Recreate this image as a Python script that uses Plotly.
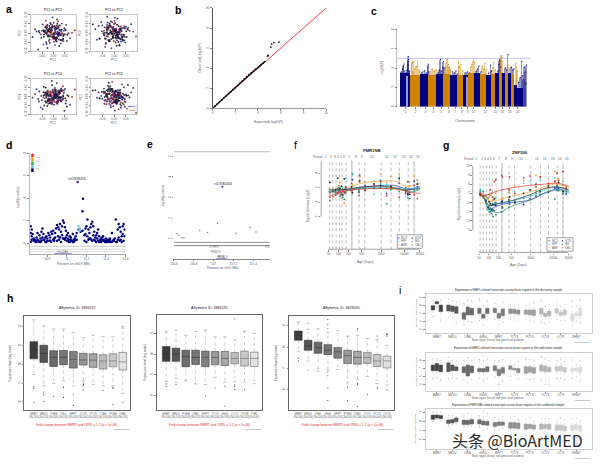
import numpy as np
import plotly.graph_objects as go

W, H = 600, 465
TXT = "#5a5a5a"

# a: principal components (in units of 0.01)
pc1 = [-1.3,2.4,-3.1,0.6,4.2,-2.2,1.7,-5.3,3.4,0.2,-0.8,6.1,2.9,-4.4,1.1,-2.7,0.4,3.3,-6.2,5.2,
       -1.6,2.1,-3.4,1.4,-0.3,-2.1,4.6,-1.1,7.3,-3.7,2.6,0.9,-5.6,1.9,3.8,-2.4,-7.4,1.2,0.1,2.2,
       -1.9,4.1,-3.2,5.4,-2.8,-0.2,1.6,-4.1,3.1,-1.2,2.7,-6.4,0.7,1.3,-2.3,6.6,-3.6,4.4,-0.6,-1.4,
       0.8,8.2,-2.6,3.6,-4.7,-0.1,2.3,-1.7,5.1,-3.3,1.8,-8.1,0.3,-2.9,3.2,1.5,-5.1,2.8,-1.5,4.3,
       -0.4,-3.9,5.9,1.0,-2.0,0.5,2.5,-4.2,3.7,-0.9,1.1,-6.7,4.8,0.0,-2.5,5.6,-3.0,9.4,-9.2,-0.7,
       0.4,-1.2,1.8,-0.6,2.5,-2.1,0.9,-3.0,1.3,-0.2,3.2,-1.7,0.1,2.0,-3.6,1.0,-0.9,3.9,-2.4,0.6,
       -1.5,2.8,-0.4,1.5,-2.9,0.2,3.5,-1.0,-4.2,1.1,2.3,-0.7,0.7,-2.0,4.3,-1.4,1.6,-3.3,0.0,2.6,
       -0.1,-2.6,1.9,0.5,-1.8,3.0,-4.4,1.2,-0.5,2.1,0.8,-3.1,2.4,-1.1,0.3,-2.3,4.6,-0.8,1.4,-1.9,
       3.4,-0.3,0.6,-4.0,2.2,-1.3,1.7,-2.7,0.9,-0.6]
pc2 = [2.1,-1.4,3.8,-0.5,-3.3,1.2,5.1,-2.6,0.7,-4.8,3.0,-0.9,1.6,-6.2,2.5,4.4,-1.8,-3.7,0.3,1.9,
       -5.4,6.3,-0.2,-2.3,3.4,1.0,-1.1,4.9,-2.9,0.6,-7.1,2.8,-0.7,3.6,-4.1,1.4,0.9,-3.0,5.7,-1.6,
       2.2,-0.3,-5.0,1.7,3.1,-2.1,7.4,-0.8,-3.9,0.4,4.2,1.1,-6.6,2.6,-1.3,-0.1,3.3,-4.5,1.5,5.5,
       -2.4,0.2,-8.2,1.8,4.7,-1.0,2.9,-3.5,-0.6,6.8,0.8,2.0,-2.7,3.9,-5.8,-0.4,1.3,4.0,-1.9,-3.2,
       8.6,0.5,-4.3,2.3,-1.2,3.7,-0.1,-2.0,5.2,1.1,-3.6,-9.0,2.7,0.0,-1.5,4.5,-6.0,1.6,-2.2,3.2,
       -0.9,1.6,2.7,-2.2,0.3,1.1,-3.4,-0.5,2.0,3.7,-1.3,0.8,-2.8,0.1,1.4,-4.1,2.4,-0.2,1.0,-3.0,
       3.1,-0.7,-1.8,4.0,0.5,-2.5,1.9,-1.0,0.9,-3.7,-0.4,2.9,1.2,-4.4,-1.6,0.6,-0.1,3.4,-2.0,1.7,
       -3.2,0.2,-1.1,2.3,3.9,-0.6,1.5,-2.7,4.3,-1.5,0.4,2.6,-3.5,0.7,-0.3,-1.9,1.3,3.0,-4.6,2.1,
       -0.8,-2.3,3.6,1.0,-1.2,0.0,-2.9,1.8,2.5,-0.5]
pc3 = [-3.4,1.7,0.5,-5.2,2.8,4.1,-1.6,0.9,-2.3,6.7,-0.4,3.0,-4.6,1.3,-7.0,2.2,5.4,-0.7,-3.1,1.0,
       3.7,-2.5,0.2,7.9,-1.2,-4.0,2.6,-0.3,4.8,-5.9,1.5,-2.8,6.1,0.6,-1.9,3.3,-3.7,0.1,2.0,-6.5,
       4.4,-0.9,1.8,-2.2,5.7,-4.4,0.7,3.1,-1.1,-8.3,2.4,-3.0,0.3,4.6,-0.5,1.2,-5.5,3.8,-2.0,6.4,
       -1.4,0.8,2.9,-3.5,-0.2,5.0,-6.8,1.6,3.5,-1.7,-4.9,2.1,8.4,-0.6,1.1,-2.6,4.2,-3.3,0.4,-1.0,
       3.4,-7.6,1.9,-0.8,5.3,-2.4,2.5,0.0,-4.2,6.0,-1.3,3.9,-5.1,0.9,-3.8,2.3,9.0,-1.8,4.7,-2.9,
       1.2,-0.6,-2.7,2.0,0.4,-3.8,1.5,3.3,-1.1,0.7,-2.2,4.1,-0.3,1.9,-3.1,0.2,2.8,-1.6,-4.3,1.0,
       0.6,3.6,-2.4,-0.9,1.7,2.3,-3.5,0.1,-1.3,4.5,-0.5,-2.0,1.1,3.0,-4.0,0.9,-1.8,2.6,-0.2,-3.3,
       1.4,-0.7,3.8,-2.6,0.3,1.8,-1.0,-3.9,2.2,0.5,-1.5,4.4,-2.9,0.8,1.3,-0.4,-2.1,3.2,0.0,-4.5,
       2.7,-1.2,1.6,-3.0,0.6,3.5,-0.8,-1.9,2.4,1.0]
pc4 = [1.4,-2.0,-0.6,3.2,-1.1,2.5,-3.6,0.4,4.6,-1.7,-4.2,0.8,2.0,-0.3,3.7,-5.3,1.2,-2.4,2.9,-0.9,
       0.1,-3.0,5.0,1.6,-1.5,-2.7,3.4,0.6,-4.7,2.2,-0.2,1.0,-6.1,3.0,-1.9,0.7,4.2,-3.3,1.8,-0.5,
       -2.2,5.9,0.3,-3.9,1.5,2.7,-1.2,-5.0,3.6,0.9,-0.7,-2.8,4.9,1.1,-4.0,0.2,2.4,-1.4,6.4,-3.1,
       1.7,-0.1,-2.5,3.1,-7.0,0.5,2.1,-1.6,4.3,-3.4,0.0,1.3,-4.6,2.6,-0.8,7.6,-2.1,1.9,-3.7,0.6,
       3.9,-1.0,-5.6,2.3,0.4,-2.9,1.4,5.4,-0.4,-3.5,2.8,-1.3,-8.0,0.7,3.3,-2.3,1.0,4.0,-0.6,8.8,
       -0.7,1.3,0.2,-2.1,2.4,-1.0,0.6,-3.2,1.7,3.0,-0.4,-1.6,2.1,0.9,-2.6,1.1,-0.1,3.4,-1.8,0.4,
       -3.5,2.7,-0.9,0.3,1.9,-2.3,3.6,-1.2,0.7,-0.5,2.2,-3.9,1.0,-1.4,0.1,2.9,-2.8,1.5,-0.6,3.2,
       -1.1,0.5,-2.4,4.0,0.8,-1.9,2.5,-0.2,-3.0,1.2,-0.8,1.8,3.5,-2.2,0.0,-1.5,2.0,-3.6,0.6,1.4,
       -2.7,3.1,-0.3,0.9,-1.3,2.6,-4.1,1.6,-0.7,2.3]
pc5 = [-0.8,3.3,-2.7,1.0,5.2,-4.1,0.2,2.6,-1.5,-3.4,4.3,0.7,-6.3,1.9,-0.4,3.0,-2.2,6.9,-1.0,0.5,
       -4.8,2.1,1.3,-3.0,-0.1,4.7,-5.7,0.9,2.4,-1.8,3.8,-2.5,0.3,-7.2,1.6,5.5,-0.6,-3.6,2.9,1.1,
       -1.3,-4.5,3.5,0.6,6.2,-2.0,1.7,-0.2,-5.1,4.0,2.2,-1.1,-3.2,0.8,7.8,-0.5,1.4,-2.8,3.2,-6.0,
       0.4,4.9,-1.6,-3.8,2.7,0.1,-2.4,5.8,1.2,-4.3,-0.9,3.6,-7.9,1.8,0.0,2.3,-1.2,-3.3,4.5,0.9,
       -5.4,2.0,6.5,-0.7,-2.6,3.1,1.5,-4.0,-0.3,8.3,-1.9,2.5,-3.1,0.6,4.1,-6.8,1.1,-9.2,3.4,-1.4,
       1.1,-2.4,0.6,3.1,-0.9,1.8,-3.5,0.2,2.3,-1.4,-0.2,3.8,-2.9,1.0,0.5,-4.2,2.6,-0.7,1.5,-1.9,
       3.4,0.3,-3.1,1.3,-0.5,2.0,-1.6,4.1,-2.2,0.8,-0.3,-3.7,2.9,1.6,-1.0,0.4,3.6,-2.6,0.0,-4.4,
       1.9,-1.2,2.4,-0.6,-3.0,0.7,4.5,-1.8,1.2,-2.3,3.3,0.1,-0.8,-3.9,2.1,1.4,-1.5,0.9,-2.7,3.0,
       -0.4,1.7,-3.3,2.7,0.6,-1.1,-2.0,3.9,0.3,-0.9]

# b: QQ plot
qq_exp = [0.05,0.2,0.4,0.6,0.8,1.0,1.2,1.4,1.6,1.8,2.0,2.2,2.4,2.6,2.8,3.0,3.2,3.4,3.6,3.8,4.0,4.15,4.3,4.45,4.6,4.84,4.9,5.13,5.2,5.4,5.85]
qq_obs = [0.05,0.22,0.43,0.63,0.84,1.05,1.25,1.46,1.66,1.87,2.07,2.28,2.5,2.72,2.94,3.15,3.35,3.53,3.72,3.9,4.08,4.22,4.36,4.5,4.66,5.2,5.28,6.1,6.4,6.55,6.6]
qq_line = [0, 10]

# c: Manhattan
chrom_width = [32,30,25,24,22,21,19,18,18,17,17,20,13,13,12,9,9,9,11,8,8,20]
chrom_top = [3.55,3.35,3.45,3.35,3.45,3.45,3.35,3.35,3.35,3.55,3.55,3.45,3.35,3.45,3.55,3.6,3.55,3.45,3.55,3.45,2.3,2.0]
chrom_ticks = [17,47,77,101,125,148,167,188,206,223,259,289,310,333,357]
chrom_labels = ["1","2","3","4","5","6","7","8","9","10","12","14","16","18","20"]
chrom_color = ["#00007f","#cc8400"]*10 + ["#00007f","#00007f"]
gap_pos = [22, 205]
navy_pos = [4,8,10,12,15,18,22,24,25,25,26,28,30,66,70,75,80,85,86,88,116,120,123,126,130,132,134,160,165,170,174,198,205,210,232,236,240,246,270,275,278,298,300,302,304,306,320,324,328,338,342,346,360,365,370,375,378,380,382,384,378,372]
navy_log = [3.6,3.9,4.2,4.4,3.7,3.5,3.8,4.3,4.7,5.2,4.9,3.7,3.6,3.5,3.6,3.7,3.5,4.1,4.4,3.6,3.5,3.8,4.9,3.7,4.1,4.7,4.0,3.6,3.5,3.7,3.4,3.5,3.6,3.5,3.7,3.9,4.2,3.6,3.5,4.3,3.7,3.7,4.4,4.8,5.0,4.1,4.0,3.8,5.4,4.1,3.8,3.9,2.5,3.0,4.7,2.8,4.1,3.6,2.4,4.3,2.6,3.2]
orange_pos = [36,38,42,45,50,54,58,60,40,92,98,104,110,138,140,143,145,147,150,153,155,178,180,185,190,215,218,222,225,227,250,255,258,262,282,285,290,306,308,310,312,328,330,333,352,354,356]
orange_log = [4.5,4.6,4.7,3.9,4.2,4.7,3.8,3.6,3.6,3.6,3.9,3.7,3.8,4.1,4.5,4.9,5.0,4.4,4.1,3.8,3.6,4.6,4.2,4.4,3.7,4.1,4.4,4.7,4.99,4.6,4.2,3.9,4.5,3.8,4.0,4.6,3.8,4.8,5.3,5.1,4.7,4.3,4.0,3.8,4.5,4.1,3.7]
manh_threshold = [5, 5]

# d: regional plot
d_pos = [10.63,10.64,10.65,10.66,10.67,10.68,10.69,10.70,10.71,10.72,10.73,10.74,10.75,10.76,10.77,10.78,10.79,10.80,10.81,10.82,
         10.83,10.84,10.85,10.86,10.87,10.88,10.89,10.90,10.91,10.92,10.93,10.94,10.95,10.96,10.97,10.98,10.99,11.00,11.01,11.02,
         11.03,11.04,11.05,11.06,11.07,11.08,11.09,11.10,11.12,11.14,11.16,11.18,11.19,11.20,11.21,11.22,11.23,11.24,11.25,11.26,
         11.27,11.28,11.29,11.30,11.31,11.32,11.33,11.34,11.35,11.36,11.37,11.38,11.39,11.40,11.41,11.42,11.43,11.44,11.46,11.48,
         11.50,11.52,11.53,11.54,11.55,11.56,11.57,11.58,11.59,
         10.63,10.64,10.66,10.68,10.70,10.72,10.74,10.76,10.78,10.80,10.82,10.84,10.86,10.88,10.90,10.92,10.94,10.96,10.98,11.00,
         11.02,11.04,11.06,11.08,11.10,11.18,11.20,11.22,11.24,11.26,11.28,11.30,11.32,11.34,11.36,11.38,11.40,11.42,11.44,11.46,
         11.48,11.50,11.52,11.54,11.56,11.58,
         10.64,10.63,10.69,10.73,10.75,10.79,10.83,10.87,10.91,10.93,10.95,10.97,10.99,11.01,11.03,11.07,11.19,11.21,11.23,11.25,
         11.27,11.29,11.31,11.33,11.35,11.37,11.39,11.41,11.43,11.45,11.47,11.49,11.51,11.53,11.55,11.57,11.59]
d_log = [1.5,1.2,0.8,0.4,0.3,0.2,0.5,0.9,0.2,0.7,0.4,1.0,1.3,0.8,0.3,0.5,0.6,0.2,0.9,0.7,
         0.5,1.0,0.8,1.1,0.4,0.9,1.3,1.6,1.4,1.2,1.7,1.0,1.5,2.0,1.8,1.4,1.1,0.7,0.9,0.3,
         0.6,0.5,0.2,0.8,0.3,0.4,0.6,0.9,1.2,1.0,1.1,0.7,1.3,1.5,2.1,1.2,0.9,1.4,1.7,1.9,
         1.5,1.0,0.5,0.7,0.9,1.2,0.6,0.3,0.4,0.5,0.6,0.3,0.2,0.4,0.1,0.3,0.2,0.4,0.9,0.3,
         2.1,1.2,1.7,1.4,1.0,0.6,1.5,1.7,1.2,
         0.1,0.3,0.2,0.1,0.3,0.1,0.2,0.3,0.1,0.4,0.2,0.1,0.3,0.5,0.2,0.3,0.1,0.4,0.3,0.2,
         0.1,0.3,0.1,0.2,0.3,0.2,0.1,0.3,0.4,0.2,0.3,0.1,0.2,0.1,0.3,0.2,0.1,0.2,0.3,0.1,
         0.2,0.1,0.3,0.2,0.1,0.2,
         0.6,0.9,0.1,0.1,0.5,0.1,0.2,0.2,0.6,0.5,0.7,0.4,0.5,0.4,0.1,0.1,0.8,0.6,0.4,0.3,
         0.7,0.2,0.4,0.1,0.1,0.2,0.1,0.2,0.1,0.1,0.2,0.4,0.1,0.5,0.3,0.8,0.6]
d_peak_pos = [11.165, 11.16]
d_peak_log = [3.95, 2.84]
d_lead_pos = [11.11]
d_lead_log = [5.44]
d_ld_pos = [11.12, 11.125, 11.13, 11.135]
d_ld_log = [1.5, 1.2, 1.05, 1.3]

# e: regional plot
e_pos = [156.63,156.65,156.68,156.70,156.86,156.94,157.04,157.23,157.37,157.43]
e_log = [1.24,1.16,1.05,1.05,1.40,1.30,1.75,1.27,1.54,1.33]
e_lead_pos = [157.09]
e_lead_log = [3.52]

# f, g: expression over the lifespan
regions = ["NCX","HIP","AMY","STR","MD","CBC"]
region_colors = ["#1f2fd0","#35d8e6","#f0a030","#222222","#2f8f5f","#e0362c"]
ages = [55,68,82,95,103,112,122,135,150,165,250,265,420,440,640,1200,1900,2900,3900,7000,11000,12800,14500,20000,25000]
curve_ages = [50,70,100,200,500,2000,5000,10000,14000,30000]
period_bounds = [54,67,85,107,129,169,256,425,630,1990,3970,7070,13200,19900]
period_label_ages = [41.6,60,77.6,97.5,120,147,214,340,513,1020,3010,5360,9980,16500,26200]
age_ticks = [50,100,200,500,2000,10000,30000]

f_points = [
    [5.3,5.5,5.4,5.9,5.7,5.6,5.2,5.8,5.5,5.7,5.5,7.1,5.7,7.6,6.3,5.9,7.0,5.2,6.1,6.6,5.4,5.0,5.8,6.3,6.1],
    [5.6,5.7,5.1,5.5,5.9,4.9,5.3,6.1,5.2,7.3,5.9,7.8,5.8,7.9,6.0,5.1,6.5,6.4,5.7,7.1,4.8,5.6,6.8,5.5,7.0],
    [5.2,5.9,5.8,5.2,6.3,6.7,4.6,5.5,3.9,5.4,5.5,6.4,6.0,7.5,6.8,6.9,7.9,6.7,7.5,7.9,5.8,6.9,6.2,7.6,7.1],
    [6.7,5.5,5.7,7.3,5.4,5.9,6.2,5.0,7.2,6.0,6.1,5.3,5.4,7.0,5.6,6.5,6.3,5.9,6.2,7.3,5.6,5.2,5.1,6.9,6.5],
    [4.2,5.6,5.0,5.8,6.0,4.8,5.1,4.7,4.4,5.3,5.6,7.9,5.5,6.8,5.8,6.1,6.0,3.8,5.8,5.5,6.0,4.6,4.5,5.7,5.8],
    [4.7,4.8,5.0,5.2,5.4,5.5,5.0,5.6,5.3,6.1,6.6,5.8,4.9,6.9,5.7,6.4,6.8,4.9,6.0,4.7,5.2,6.8,5.4,5.0,4.5],
]
f_curves = [
    [5.5,5.5,5.6,5.8,6.0,6.3,6.3,5.9,5.8,6.1],
    [5.5,5.6,5.6,5.7,5.9,6.0,5.9,5.8,5.8,6.1],
    [5.5,5.6,5.7,6.0,6.6,6.9,6.9,6.3,6.2,6.6],
    [5.8,5.7,5.7,5.8,6.1,6.2,6.0,5.7,5.7,5.9],
    [5.4,5.4,5.3,5.6,5.9,5.9,5.9,5.6,5.4,5.7],
    [4.8,5.0,5.3,5.6,5.8,5.9,5.8,5.6,5.4,5.2],
]
g_points = [
    [7.0,6.8,6.3,5.5,5.3,5.0,5.7,5.2,5.8,6.0,5.9,6.2,6.1,5.9,6.1,5.8,6.4,6.7,6.9,7.1,7.6,7.4,7.6,7.0,7.0],
    [7.5,7.2,6.2,5.2,5.6,5.8,5.1,6.3,6.0,6.5,5.9,6.4,6.6,7.0,7.2,8.1,8.3,7.3,8.4,8.0,8.7,7.9,7.4,8.3,7.1],
    [6.8,7.0,6.6,6.4,6.1,6.8,5.8,6.3,6.5,7.0,6.3,6.5,7.1,7.4,7.8,8.4,7.3,9.0,8.8,7.6,9.4,8.0,8.6,7.6,7.7],
    [6.9,6.7,6.2,5.5,6.1,5.9,5.2,5.8,6.4,5.7,6.1,5.5,6.3,6.6,6.0,7.0,7.4,8.0,7.2,7.8,8.3,7.7,8.2,7.2,7.5],
    [7.3,7.2,6.0,5.3,5.0,5.4,4.8,4.5,5.1,4.7,5.0,5.4,5.5,5.8,6.2,6.5,6.8,7.0,7.3,7.2,6.4,7.8,7.3,7.0,6.9],
    [7.0,6.7,6.8,6.5,6.9,7.4,7.0,6.6,8.3,8.5,9.0,8.8,7.4,8.8,7.0,8.7,8.9,7.7,8.8,8.1,8.3,9.2,8.4,9.4,7.6],
]
g_curves = [
    [7.0,6.6,5.3,5.7,6.0,6.3,7.0,7.4,7.5,7.1],
    [7.4,6.9,5.7,5.9,6.2,6.7,7.3,7.7,7.7,7.3],
    [6.8,6.7,6.2,6.3,6.7,7.2,7.7,8.0,8.0,7.7],
    [6.9,6.5,5.7,5.9,6.2,6.9,7.5,7.7,7.7,7.4],
    [7.2,6.6,5.3,4.9,5.6,6.3,7.0,7.3,7.4,7.2],
    [6.8,6.8,6.9,7.3,7.6,7.9,8.0,8.1,8.1,7.8],
]

# h: three box plots
h_titles = ["Affymetrix ID: 3884192","Affymetrix ID: 3884195","Affymetrix ID: 3828034"]
h_labels = [
    ["MMRT","MEDU","TGEB","CBLL","MFPT","CLYN","TCYS","TCAS","PCMB","CRBL"],
    ["MMRT","MEDU","PCRM","CRBL","MFPT","TCYS","GNGL","LCYS","TCYM","TGRL"],
    ["MMRT","MEDU","CRBL","GNGL","MFPT","PCRM","TMGL","TCYS","PCYS","OCYS"],
]
h_q3 = [[11.19,11.0,10.71,10.72,10.67,10.57,10.55,10.5,10.55,10.62],
        [10.37,10.29,10.19,10.19,10.15,10.13,10.13,10.08,10.15,10.1],
        [10.75,10.32,10.23,10.11,9.98,9.85,9.8,9.75,9.65,9.57]]
h_med = [[10.78,10.57,10.36,10.36,10.26,10.22,10.21,10.17,10.17,10.12],
         [10.03,10.0,9.89,9.84,9.85,9.84,9.79,9.79,9.79,9.79],
         [10.54,10.05,9.97,9.85,9.78,9.6,9.51,9.51,9.35,9.35]]
h_q1 = [[10.28,10.09,9.88,9.97,9.79,9.95,9.83,9.74,9.86,9.69],
        [9.65,9.65,9.39,9.5,9.39,9.48,9.45,9.53,9.42,9.4],
        [10.32,9.85,9.71,9.65,9.48,9.23,9.2,9.23,9.09,9.02]]
h_hi = [[12.34,12.03,11.86,11.86,11.66,11.4,11.53,11.45,11.45,11.91],
        [11.1,11.18,10.92,11.11,11.19,10.85,10.85,10.69,11.13,11.02],
        [11.18,10.83,10.86,10.68,10.77,10.51,10.55,10.4,10.34,10.08]]
h_lo = [[9.45,8.86,8.98,9.12,8.84,9.12,8.93,8.84,8.84,8.45],
        [8.66,8.82,8.71,8.55,8.52,8.87,8.63,8.66,8.63,8.56],
        [9.8,9.34,8.97,8.91,8.95,8.32,8.49,8.62,8.29,8.22]]
h_out = [[[8.81,8.72,7.98],[8.52,8.38,8.03],[8.29],[8.79,8.76,8.24],[8.38,7.83],[9.0,8.93,8.86,8.64],[],[8.6],[8.78,8.72,7.86],[12.0,7.98]],
         [[8.55,8.42],[8.63,8.52],[],[],[7.95],[8.35],[8.44,7.47],[11.73,8.5,8.42,8.27],[8.27],[]],
         [[9.48,9.35],[11.12,8.92],[8.85],[11.29,11.06,10.86,8.83,8.65,8.09,7.49],[],[8.12,7.48],[10.88,10.8,8.29,8.25,7.22],[7.77],[10.52,8.11,8.03],[10.63,10.58,10.52,10.6,7.98]]]
h_fill = ["#3d3d3d","#555555","#6b6b6b","#777777","#808080","#999999","#a8a8a8","#bbbbbb","#c8c8c8","#e2e2e2"]

# i: grouped box plots
i_titles = ["Expression of EBF1-related transcripts across brain regions in the discovery sample",
            "Expression of EBF1-related transcripts across brain regions in the replication sample",
            "Expression of FMR1NB-related transcripts across brain regions in the combined sample"]
i_groups = ["MMRT","MEDU","CRBL","GNGL","MFPT","TCYS","PCYS","OCYS","LCYS","WHMT"]
i_q3 = [[8.0,8.5,8.08,8.08,7.96,7.88,7.12,7.83,7.67,7.67,6.92,7.67,7.67,7.04,7.58,7.58,7.54,7.46,7.46,7.46,7.46,7.67,7.04,7.33,7.62,7.2,7.46,6.92,7.0,7.67],
        [7.41,7.61,7.41,7.69,7.41,7.2,7.2,7.41,7.29,7.0,7.0,7.2,7.33,6.88,7.12,7.33,7.0,7.0,7.2,7.2,7.12,7.41,7.29,7.12,7.2,7.29,7.12,7.0,7.0,7.12],
        [8.68,8.68,8.64,8.14,8.21,8.36,8.14,8.11,8.21,8.18,8.04,8.0,7.86,7.93,7.93,7.86,7.86,7.82,7.71,7.68,7.61,7.71,7.64,7.68,7.61,7.61,7.5,7.57,7.64,7.54]]
i_med = [[7.75,8.38,7.67,7.75,7.62,7.54,6.71,7.33,7.33,7.33,6.67,7.33,7.42,6.75,7.17,7.33,7.29,7.25,7.21,7.21,7.12,7.33,6.83,7.04,7.33,7.0,7.17,6.5,6.83,7.21],
        [7.12,7.2,7.0,7.2,7.08,7.0,6.88,6.8,6.88,6.8,6.8,6.96,7.04,6.59,6.8,7.12,6.92,6.8,6.88,6.92,6.8,7.0,7.0,6.88,6.96,7.0,6.88,6.84,6.88,6.88],
        [8.5,8.54,8.5,7.96,8.04,8.18,7.93,7.89,8.0,8.0,7.86,7.82,7.68,7.75,7.79,7.61,7.61,7.57,7.46,7.46,7.39,7.46,7.43,7.46,7.36,7.36,7.25,7.36,7.39,7.25]]
i_q1 = [[7.46,8.25,7.25,7.33,7.25,7.04,6.29,6.83,6.83,7.0,6.42,7.0,7.12,6.42,6.71,7.0,7.0,6.92,6.92,6.83,6.75,6.92,6.62,6.71,7.04,6.79,6.83,6.08,6.71,6.71],
        [6.71,6.71,6.59,6.59,6.71,6.71,6.47,6.06,6.47,6.59,6.55,6.59,6.71,6.1,6.39,6.88,6.8,6.47,6.39,6.51,6.39,6.67,6.59,6.59,6.67,6.71,6.55,6.63,6.71,6.47],
        [8.21,8.36,8.29,7.75,7.82,7.96,7.64,7.64,7.71,7.71,7.61,7.57,7.43,7.54,7.57,7.25,7.25,7.21,7.14,7.21,7.14,7.14,7.21,7.14,7.0,7.04,6.96,7.0,7.11,6.93]]
i_hi = [[8.7,8.9,8.7,8.8,8.6,8.5,8.3,8.7,8.6,8.9,8.0,8.6,8.3,7.9,8.4,8.2,8.1,8.2,8.0,8.2,8.4,8.7,7.9,8.2,8.4,7.9,8.2,8.6,8.0,8.8],
        [8.2,8.2,8.0,8.4,8.0,7.9,8.0,8.3,8.0,8.1,8.5,8.2,8.0,8.0,8.1,7.9,7.5,7.9,8.2,8.1,8.0,8.5,8.2,8.0,8.0,8.2,7.9,8.3,7.5,8.0],
        [9.0,8.9,9.0,8.6,8.6,8.5,8.6,8.8,8.7,8.6,9.1,8.9,8.4,8.3,8.5,8.4,8.5,8.2,8.2,8.4,8.0,8.3,8.3,8.3,8.1,8.4,8.2,8.3,8.4,8.0]]
i_lo = [[6.6,7.8,6.0,6.5,6.4,5.7,5.6,6.0,5.9,6.1,5.6,6.2,6.3,5.6,5.9,6.3,6.2,6.2,6.2,6.1,6.0,5.8,5.7,5.9,6.2,6.1,6.1,5.4,6.0,5.9],
        [5.7,5.8,5.5,5.7,5.8,5.7,5.5,5.2,5.6,5.8,5.4,5.7,5.9,5.0,5.4,6.0,6.2,5.7,5.7,5.6,5.7,5.5,5.0,4.9,5.7,5.7,5.6,5.8,6.0,5.4],
        [8.0,8.2,8.0,7.5,7.6,7.7,7.4,7.4,7.5,7.4,7.0,7.2,7.0,7.1,7.2,6.3,6.4,6.2,6.4,6.4,6.6,6.2,6.4,6.3,6.2,6.1,6.1,6.2,6.2,6.0]]
i_fill = ["#444444","#595959","#666666","#707070","#7d7d7d","#8f8f8f","#a0a0a0","#b4b4b4","#c6c6c6","#dcdcdc"]

fig = go.Figure()


def name(prefix, n):
    return prefix if n == 1 else f"{prefix}{n}"


def add_axes(n, box, xr, yr, xkw=None, ykw=None):
    x0, y0, x1, y1 = box
    base = dict(showgrid=False, zeroline=False, ticks="outside", ticklen=1.5, tickwidth=0.4, tickcolor="#888888",
                tickfont=dict(size=3, color=TXT), showline=True, linewidth=0.5, linecolor="#999999")
    xa = dict(base, domain=[x0/W, x1/W], range=xr, anchor=name("y", n))
    ya = dict(base, domain=[1-y1/H, 1-y0/H], range=yr, anchor=name("x", n))
    xa.update(xkw or {})
    ya.update(ykw or {})
    fig.update_layout({name("xaxis", n): xa, name("yaxis", n): ya})


def scatter(n, x, y, **kw):
    fig.add_trace(go.Scatter(x=x, y=y, xaxis=name("x", n), yaxis=name("y", n), showlegend=False, hoverinfo="skip", **kw))


def text(x, y, s, size=3.5, color=TXT, rot=0, anchor="center", bold=False):
    if bold:
        s = f"<b>{s}</b>"
    fig.add_annotation(x=x/W, y=1-y/H, xref="paper", yref="paper", text=s, showarrow=False, textangle=rot,
                       xanchor=anchor, yanchor="middle", font=dict(size=size, color=color), borderpad=0)


def line(x0, y0, x1, y1, color="#888888", width=0.5):
    fig.add_shape(type="line", xref="paper", yref="paper", x0=x0/W, x1=x1/W, y0=1-y0/H, y1=1-y1/H,
                  line=dict(color=color, width=width))


def rect(x0, y0, x1, y1, fill="rgba(0,0,0,0)", color="#888888", width=0.5, shape="rect"):
    fig.add_shape(type=shape, xref="paper", yref="paper", x0=x0/W, x1=x1/W, y0=1-y0/H, y1=1-y1/H,
                  fillcolor=fill, line=dict(color=color, width=width))


def box_set(n, xs, q1, med, q3, lo, hi, fills, width, line_color, whisker, cap):
    wx, wy, cx, cy = [], [], [], []
    for k, x in enumerate(xs):
        fig.add_trace(go.Box(x=[x], q1=[q1[k]], median=[med[k]], q3=[q3[k]], lowerfence=[q1[k]], upperfence=[q3[k]],
                             width=width, fillcolor=fills[k], line=dict(color=line_color[k], width=0.6),
                             boxpoints=False, showlegend=False, hoverinfo="skip", whiskerwidth=0,
                             xaxis=name("x", n), yaxis=name("y", n)))
        wx += [x, x, None, x, x, None]
        wy += [q3[k], hi[k], None, q1[k], lo[k], None]
        cx += [x, x]
        cy += [hi[k], lo[k]]
    scatter(n, wx, wy, mode="lines", line=dict(color=whisker, width=0.5, dash="dot"))
    scatter(n, cx, cy, mode="markers", marker=dict(symbol="line-ew", size=cap, line=dict(color="#666666", width=0.4)))


# panel letters
for s, x, y in [("a",5,5),("b",176,6),("c",374,7),("d",5,143),("e",148,142),("f",295,143),("g",447,143),("h",6,298),("i",401,290)]:
    text(x, y, s, size=10.5, color="#000000", bold=s in "abcdegh")

# a
pcs = [pc2, pc3, pc4, pc5]
pc_boxes = [(27,11,73,48),(88,11,135,48),(27,76,73,112),(88,76,135,112)]
pc_colors = ["#16168c","#8f1622","#0c0c28","#1a1a1a"] * 43
pc_ticks = [-10,-5,0,5,10]
pc_ticktext = ["-0.10","-0.05","0.00","0.05","0.10"]
for i, (vals, bx) in enumerate(zip(pcs, pc_boxes)):
    n = i + 1
    add_axes(n, bx, [-10,10], [-10,10],
             dict(tickvals=pc_ticks[1:4], ticktext=pc_ticktext[1:4], mirror=True, linecolor="#c4c4c4"),
             dict(tickvals=pc_ticks, ticktext=pc_ticktext, mirror=True, linecolor="#c4c4c4", tickangle=-90))
    scatter(n, pc1, vals, mode="markers", marker=dict(size=1.9, color=pc_colors[:len(pc1)], opacity=0.85))
    text((bx[0]+bx[2])/2, bx[1]-5, f"PC1 vs PC{i+2}", bold=True, size=3.2)
    text((bx[0]+bx[2])/2, bx[3]+9, "PC1", size=3)
    text(bx[0]-11, (bx[1]+bx[3])/2, f"PC{i+2}", size=3, rot=-90)
rect(125,102.5,134,106,fill="#ffffff",color="#bbbbbb",width=0.3)
text(130,104,"MMRT",size=2.5,color="#2222cc",bold=True)
rect(125,106,134,109.5,fill="#ffffff",color="#bbbbbb",width=0.3)
text(130,108,"CRRL",size=2.5,color="#dd2222",bold=True)

# b
add_axes(5, (211,4,326,106), [0,10], [0,10],
         dict(tickvals=[0,2,4,6,8,10]),
         dict(tickvals=[0,2,4,6,8,10], linecolor="#555555", linewidth=1, tickangle=-90))
scatter(5, qq_line, qq_line, mode="lines", line=dict(color="#f04040", width=1))
scatter(5, qq_exp, qq_obs, mode="markers", marker=dict(size=1.8, color="#111111"))
scatter(5, qq_exp[:25], qq_obs[:25], mode="lines", line=dict(color="#111111", width=1.3))
text(268,120,"Expected(-log10P)",size=3.5)
text(198,55,"Observed(-log10P)",size=3.5,rot=-90)

# c
add_axes(6, (398,26,533,104), [-8,397], [0,8],
         dict(tickvals=chrom_ticks, ticktext=chrom_labels, showline=False),
         dict(tickvals=[0,2,4,6,8], linecolor="#bbbbbb", tickangle=-90))
edges = np.cumsum([0]+chrom_width[:-1])
fig.add_trace(go.Bar(x=navy_pos, y=navy_log, width=1.4, marker=dict(color="#2a2a90", opacity=0.5, line=dict(width=0)),
                     xaxis="x6", yaxis="y6", showlegend=False, hoverinfo="skip"))
fig.add_trace(go.Bar(x=orange_pos, y=orange_log, width=1.4, marker=dict(color="#d89420", opacity=0.5, line=dict(width=0)),
                     xaxis="x6", yaxis="y6", showlegend=False, hoverinfo="skip"))
fig.add_trace(go.Bar(x=edges+np.array(chrom_width)/2, y=chrom_top, width=chrom_width, marker=dict(color=chrom_color, line=dict(width=0)),
                     xaxis="x6", yaxis="y6", showlegend=False, hoverinfo="skip"))
fig.add_trace(go.Bar(x=gap_pos, y=[3.2,3.1], width=1.5, marker=dict(color="#9a9ad8", line=dict(width=0)),
                     xaxis="x6", yaxis="y6", showlegend=False, hoverinfo="skip"))
scatter(6, navy_pos, navy_log, mode="markers", marker=dict(size=1.3, color="#00007f"))
scatter(6, orange_pos, orange_log, mode="markers", marker=dict(size=1.3, color="#cc8400"))
scatter(6, [-8,397], manh_threshold, mode="lines", line=dict(color="#b8b8ee", width=0.8))
text(466,118.7,"Chromosome",size=3.3)
text(382,65,"-log10(P)",size=3.3,rot=-90)

# d
add_axes(7, (26,151,123,254.3), [10.62,11.6], [-1.02,8.04],
         dict(tickvals=[10.8,11,11.2,11.4,11.6], ticktext=["10.8","11","11.2","11.4","11.6"], linecolor="#aaaaaa"),
         dict(tickvals=[0,2,4,6,8], linecolor="#bbbbbb", tickangle=-90))
scatter(7, d_pos, d_log, mode="markers", marker=dict(size=2.5, color="#00007f"))
scatter(7, d_peak_pos, d_peak_log, mode="markers", marker=dict(size=2.5, color="#00007f"))
scatter(7, d_ld_pos, d_ld_log, mode="markers", marker=dict(size=2.3, color="#6fb6d8"))
scatter(7, d_lead_pos, d_lead_log, mode="markers", marker=dict(size=2.6, color="#5a2ca0"))
text(74,177.5,"rs72836455",size=3.4,color="#222222")
line(26,246,123,246,"#bbbbbb",0.8)
line(26,249,123,249,"#cccccc",0.8)
line(26,251.5,123,251.5,"#cccccc",0.8)
text(60,252,"SLC2A3",size=2.6)
line(51,253.3,69,253.3,"#7777dd",0.8)
for c, y in zip(["#ff2020","#ffa000","#20c040","#70c8e0","#00007f"], [152,156,160,163.5,167]):
    rect(27.5,y,30,y+3.5,fill=c,color=c,width=0.1)
for lab, y in zip(["0.8","0.6","0.4","0.2"], [155.5,159.5,163,166.5]):
    text(31,y,lab,size=2.2,anchor="left")
text(70,264,"Position on chr19 (Mb)",size=3.3)
text(14,197,"-log10(p-value)",size=3.3,rot=-90)

# e
add_axes(8, (172,150,269,259), [156.6,157.57], [0.01,5.22],
         dict(tickvals=[156.6,156.8,157,157.2,157.4], ticktext=["156.6","156.8","157","157.2","157.4"], linecolor="#888888"),
         dict(tickvals=[1,2,3,4,5], linecolor="#ffffff", tickangle=-90))
scatter(8, e_pos, e_log, mode="markers", marker=dict(size=1.5, color="#777777"))
scatter(8, e_lead_pos, e_lead_log, mode="markers", marker=dict(size=2.2, color="#5a2ca0"))
line(172,150,269,150,"#aaaaaa",0.8)
line(172,242,269,242,"#777777",0.8)
line(172,245.3,269,245.3,"#666666",0.8)
text(221.5,182.7,"rs17082404",size=3.4,color="#222222")
text(212,247,"CYFIP2",size=2.8)
text(215,252,"FNDC9",size=2.8)
text(222,256.5,"NIPAL4",size=2.8)
text(266,247,"ITK",size=2.8)
line(216,256,219,256,"#333399",0.8)
line(215,258.5,225,258.5,"#7777dd",0.8)
text(221,268,"Position on chr5 (Mb)",size=3.3)
text(161,195,"-log10(p-value)",size=3.3,rot=-90)

# f, g
life = [
    (9, (321,159,423.3,249), [1.477,4.549], [-2.45,9.71], [8,6,4,2], f_points, f_curves, "FMR1NB",
     (372,148.7), (317,155.7), (321,160,216), (328,420,249), (398,234.3,423.3,248), (399.5,237.5), (307,205), (366,262)),
    (10, (474.3,161,576.7,252.3), [1.505,4.638], [0.57,10.36], [10,9,8,7,6,5,4,3], g_points, g_curves, "ZNF506",
     (522,150.7), (470,157.7), (474.3,164.3,229.7), (480.7,571,252.3), (549.3,237.3,575.7,251), (551.5,240.5), (460,203), (521,265)),
]
for n, bx, xr, yr, yt, pts, curves, title, tpos, ppos, yline, xline, lbox, lmark, ylab, xlab in life:
    add_axes(n, bx, xr, yr,
             dict(type="log", tickvals=age_ticks, ticktext=[str(a) for a in age_ticks], showline=False),
             dict(tickvals=yt, showline=False, tickangle=-90 if n == 9 else 0))
    seg_x, seg_y = [], []
    for k, a in enumerate(period_bounds):
        if k == 6:
            continue
        seg_x += [a, a, None]
        seg_y += [yr[0], yr[1], None]
    scatter(n, seg_x, seg_y, mode="lines", line=dict(color="#777777", width=0.5, dash="dot"))
    scatter(n, [period_bounds[6]]*2, yr, mode="lines", line=dict(color="#777777", width=0.6))
    scatter(n, [period_bounds[13]]*2, yr, mode="lines", line=dict(color="#cccccc", width=1))
    for r, c in enumerate(region_colors):
        scatter(n, ages, pts[r], mode="markers", marker=dict(size=1.8, color=c))
        scatter(n, curve_ages, curves[r], mode="lines", line=dict(color=c, width=0.7, shape="spline", smoothing=1))
    text(tpos[0], tpos[1], title, size=4.2, color="#222222", bold=True)
    text(ppos[0], ppos[1], "Period", size=3.2)
    for k, a in enumerate(period_label_ages):
        fig.add_annotation(x=np.log10(a), y=1-ppos[1]/H, xref=name("x", n), yref="paper", text=str(k+1), showarrow=False,
                           font=dict(size=3.2, color=TXT), yanchor="middle")
    line(yline[0], yline[1], yline[0], yline[2], "#666666", 0.6)
    line(xline[0], xline[2], xline[1], xline[2], "#666666", 0.6)
    rect(lbox[0], lbox[1], lbox[2], lbox[3], fill="#ffffff", color="#666666", width=0.6)
    for k, r in enumerate(regions):
        lx = lmark[0] + (13.5 if k >= 3 else 0)
        ly = lmark[1] + (k % 3) * 3.5
        rect(lx-0.6, ly-0.6, lx+0.6, ly+0.6, fill=region_colors[k], color=region_colors[k], width=0.1, shape="circle")
        text(lx+1.6, ly, r, size=2.9, anchor="left")
    text(xlab[0], xlab[1], "Age (Days)", size=3.3)
    text(ylab[0], ylab[1], "Signal intensity (Log2)", size=3.3, rot=-90)

# h
h_boxes = [(20.7,316.7,127.7,411.7),(154.7,316,260.7,411.7),(288.3,316.7,395,411.7)]
h_ranges = [[7.6,12.55],[7.3,11.9],[7.07,11.46]]
h_yticks = [[8,9,10,11,12],[8,9,10,11],[8,9,10,11]]
h_title_y = [309,309,309]
h_caption_x = [73,208,343]
h_ylab_x = [6,142,275]
for k, bx in enumerate(h_boxes):
    n = 11 + k
    xs = list(range(1, 11))
    add_axes(n, bx, [0.05,10.75], h_ranges[k],
             dict(tickvals=xs, ticktext=[f"{s}<br>(N=100)" for s in h_labels[k]], mirror=True, linecolor="#666666", linewidth=0.8, ticklen=1,
                  tickfont=dict(size=2.6, color=TXT), tickangle=0),
             dict(tickvals=h_yticks[k], mirror=True, linecolor="#666666", linewidth=0.8, tickangle=-90))
    box_set(n, xs, h_q1[k], h_med[k], h_q3[k], h_lo[k], h_hi[k], h_fill, 0.78,
            ["#333333"]*4 + ["#444444"]*3 + ["#666666"]*3, "#999999", 2.5)
    ox, oy = [], []
    for x, vals in zip(xs, h_out[k]):
        ox += [x]*len(vals)
        oy += vals
    scatter(n, ox, oy, mode="markers", marker=dict(size=1.1, color="#333333"))
    text((bx[0]+bx[2])/2, h_title_y[k], h_titles[k], size=3.6, color="#222222")
    text(h_caption_x[k], 427.5, "Fold change between MMRT and CRRL = 1.2 (p &lt; 1e-06)", size=3.2, color="#e03030")
    text(bx[2]+1, 431.5, "[probeset/gene]", size=2.2, anchor="right")
    text(h_ylab_x[k], 364, "Expression level (log scale)", size=3, rot=-90)

# i
i_boxes = [(426.7,294,595,334.3),(426.7,354,595,393.3),(426.7,411,595,451.7)]
i_ranges = [[4.5,9.54],[4.14,8.96],[5.0,9.36]]
i_yticks = [[5,6,7,8,9],[5,6,7,8],[6,7,8,9]]
i_title_y = [290,349,406.7]
for k, bx in enumerate(i_boxes):
    n = 14 + k
    centers = list(range(1, 11))
    xs = [c + d for c in centers for d in (-0.255, 0, 0.255)]
    fills = [f for f in i_fill for _ in range(3)]
    add_axes(n, bx, [0.28,11.02], i_ranges[k],
             dict(tickvals=centers, ticktext=i_groups, mirror=True, linecolor="#cfcfcf", ticklen=1, tickfont=dict(size=2.8, color=TXT)),
             dict(tickvals=i_yticks[k], mirror=True, linecolor="#cfcfcf", tickangle=-90))
    box_set(n, xs, i_q1[k], i_med[k], i_q3[k], i_lo[k], i_hi[k], fills, 0.22, fills, "#c8c8c8", 0.8)
    text(510.7, i_title_y[k], i_titles[k], size=2.9, color="#222222")
    text(500, bx[3]+7, "Brain region (tissue) and gene-level probeset", size=2.6)
    text(417, (bx[1]+bx[3])/2, "Expression level (log scale)", size=2.4, rot=-90)
    text(586, bx[3]+9, "[probeset/gene]", size=2.2)

# watermark
text(520, 443, "头条 @BioArtMED", size=16, color="#2b2b2b")
fig.update_annotations(selector=dict(text="头条 @BioArtMED"), font_family="Noto Sans CJK SC", font_shadow="0 0 1.5px #ffffff")

fig.update_layout(width=W, height=H, margin=dict(l=0, r=0, t=0, b=0), autosize=False, plot_bgcolor="white", paper_bgcolor="white",
                  showlegend=False, boxmode="overlay", barmode="overlay", bargap=0,
                  font=dict(family="Liberation Sans", color=TXT))
fig.write_html("out.html", config=dict(displayModeBar=False), post_script="document.body.style.margin='0';")
